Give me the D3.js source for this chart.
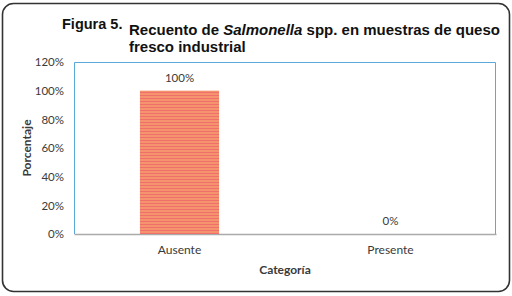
<!DOCTYPE html>
<html>
<head>
<meta charset="utf-8">
<script src="https://cdn.jsdelivr.net/npm/d3@7"></script>
<style>
  body { margin: 0; background: #fff; }
  svg { display: block; }
</style>
</head>
<body>
<div id="chart"></div>
<script>
const categories = ["Ausente", "Presente"];
const values = [1.0, 0.0];
const tickValues = [0, 0.2, 0.4, 0.6, 0.8, 1.0, 1.2];

const W = 512, H = 296;
const pad = { t: 62, r: 16, b: 62, l: 74 };
const iW = W - pad.l - pad.r;
const iH = H - pad.t - pad.b;
const bodyFont = "Lato, Liberation Sans, sans-serif";

const svg = d3.select("#chart").append("svg")
  .attr("width", W).attr("height", H);

// bar stripe pattern
const defs = svg.append("defs");
const pat = defs.append("pattern")
  .attr("id", "stripes").attr("patternUnits", "userSpaceOnUse")
  .attr("width", 4).attr("height", 3);
pat.append("rect").attr("width", 4).attr("height", 3).attr("fill", "#F6936F");
pat.append("rect").attr("width", 4).attr("height", 1).attr("fill", "#EF6F6A");

// outer frame
svg.append("rect")
  .attr("x", 2.5).attr("y", 3.5).attr("width", 507).attr("height", 288)
  .attr("rx", 11).attr("fill", "#fff")
  .attr("stroke", "#333").attr("stroke-width", 1.6);

// title
const title = svg.append("g").attr("font-family", "Liberation Sans, Arial, sans-serif")
  .attr("font-weight", "bold").attr("fill", "#111");
title.append("text").attr("x", 62).attr("y", 29).attr("font-size", 14.5).text("Figura 5.");
const t1 = title.append("text").attr("x", 129).attr("y", 35).attr("font-size", 15);
t1.append("tspan").text("Recuento de ");
t1.append("tspan").attr("font-style", "italic").text("Salmonella");
t1.append("tspan").text(" spp. en muestras de queso");
title.append("text").attr("x", 129).attr("y", 52).attr("font-size", 15).text("fresco industrial");

const g = svg.append("g").attr("transform", `translate(${pad.l},${pad.t})`);

const x = d3.scaleBand().domain(categories).range([0, iW]).paddingInner(0.625).paddingOuter(0.3125);
const y = d3.scaleLinear().domain([0, 1.2]).range([iH, 0]);

// plot border (blue)
g.append("path")
  .attr("d", `M0.5,${iH} V0.5 H${iW - 0.5} V${iH}`)
  .attr("fill", "none").attr("stroke", "#5AA9D8").attr("stroke-width", 1);

// y axis
const yAxis = g.append("g")
  .call(d3.axisLeft(y).tickValues(tickValues).tickSize(0).tickPadding(10)
    .tickFormat(d3.format(".0%")));
yAxis.select(".domain").remove();
yAxis.selectAll("text").attr("font-family", bodyFont)
  .attr("font-size", 11.5).attr("fill", "#3a3a3a");

// x axis
const xAxis = g.append("g").attr("transform", `translate(0,${iH})`)
  .call(d3.axisBottom(x).tickSize(0).tickPadding(11));
xAxis.select(".domain").attr("stroke", "#aaa").attr("stroke-width", 1.5);
xAxis.selectAll("text").attr("font-family", bodyFont)
  .attr("font-size", 12).attr("fill", "#3a3a3a");

// bars
g.selectAll("rect.bar").data(values).enter().append("rect").attr("class", "bar")
  .attr("x", (d, i) => x(categories[i]))
  .attr("y", d => y(d))
  .attr("width", x.bandwidth())
  .attr("height", d => iH - y(d))
  .attr("fill", "url(#stripes)");

// value labels
g.selectAll("text.val").data(values).enter().append("text").attr("class", "val")
  .attr("x", (d, i) => x(categories[i]) + x.bandwidth() / 2)
  .attr("y", d => y(d) - 9)
  .attr("text-anchor", "middle")
  .attr("font-family", bodyFont)
  .attr("font-size", 11.5).attr("fill", "#3a3a3a")
  .text(d => d3.format(".0%")(d));

// axis titles
svg.append("text")
  .attr("transform", `translate(31,${pad.t + iH / 2}) rotate(-90)`)
  .attr("text-anchor", "middle").attr("font-family", bodyFont)
  .attr("font-weight", "bold").attr("font-size", 12).attr("fill", "#3a3a3a")
  .text("Porcentaje");
svg.append("text")
  .attr("x", pad.l + iW / 2).attr("y", 274)
  .attr("text-anchor", "middle").attr("font-family", bodyFont)
  .attr("font-weight", "bold").attr("font-size", 12).attr("fill", "#3a3a3a")
  .text("Categoría");
</script>
</body>
</html>
